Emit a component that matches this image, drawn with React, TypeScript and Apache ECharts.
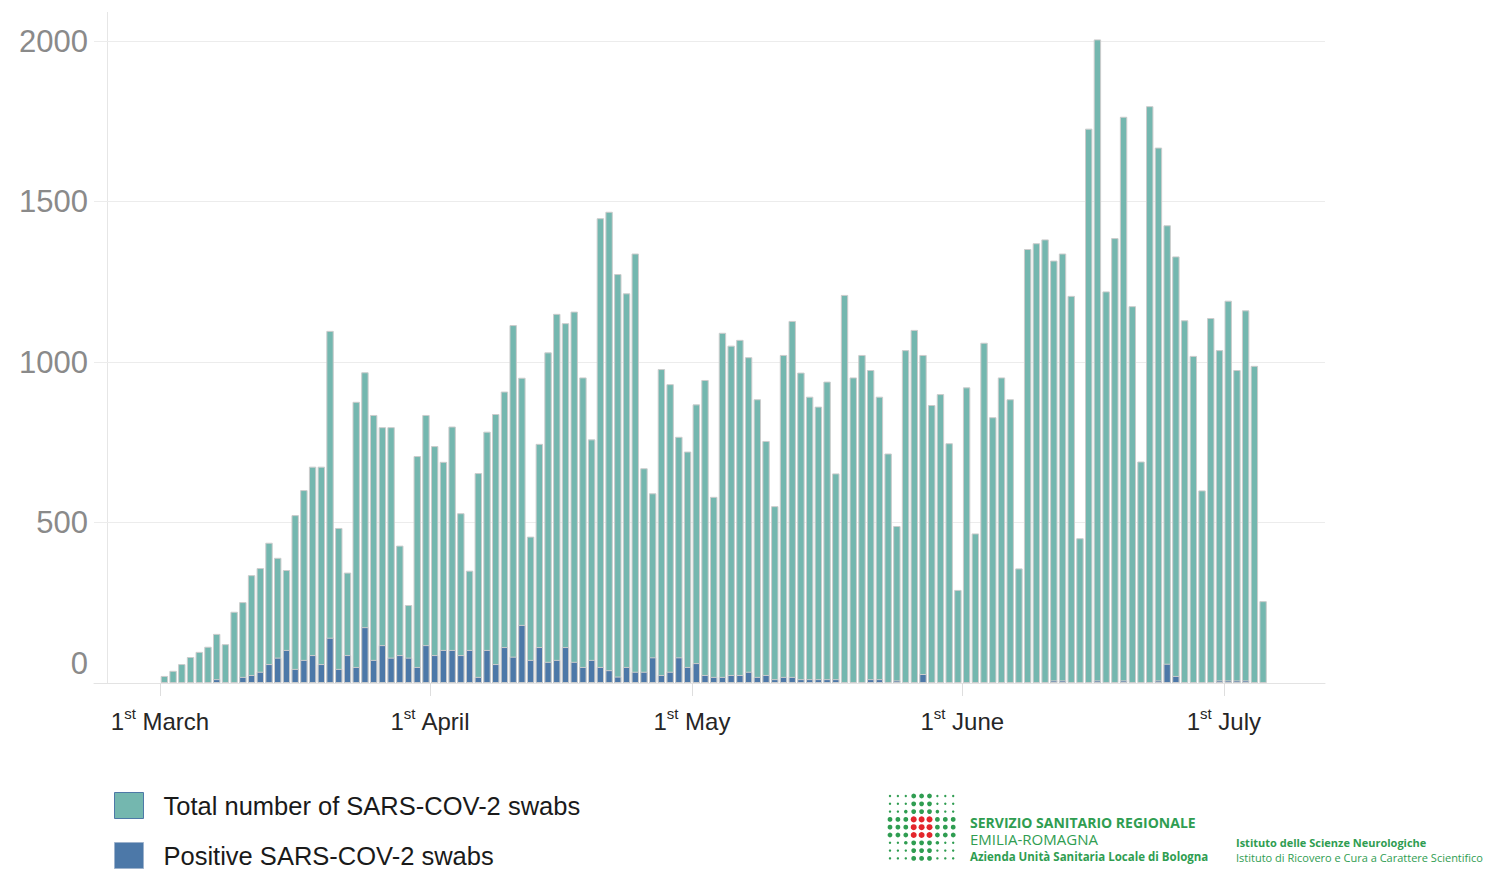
import React, { useEffect, useRef } from 'react';
import * as echarts from 'echarts';

// Daily swabs, 1 March (index 0) to 5 July (index 126)
const totalSwabs = [
  22, 38, 59, 81, 97, 113, 153, 121, 222, 252,
  336, 358, 437, 390, 352, 523, 601, 674, 674, 1097,
  483, 344, 876, 968, 835, 797, 797, 428, 243, 707,
  835, 738, 689, 799, 529, 350, 654, 783, 838, 908,
  1115, 951, 456, 745, 1030, 1150, 1121, 1157, 952, 759,
  1448, 1468, 1274, 1214, 1338, 669, 591, 978, 931, 767,
  721, 868, 944, 580, 1091, 1051, 1069, 1015, 884, 754,
  551, 1022, 1128, 967, 892, 861, 939, 653, 1209, 952,
  1022, 975, 892, 715, 489, 1037, 1100, 1022, 866, 900,
  747, 290, 921, 466, 1060, 828, 952, 884, 357, 1352,
  1370, 1382, 1316, 1338, 1206, 451, 1727, 2005, 1220, 1386,
  1764, 1174, 690, 1797, 1668, 1426, 1329, 1130, 1019, 600,
  1137, 1037, 1191, 975, 1161, 988, 255,
];

const positiveSwabs = [
  0, 0, 0, 0, 0, 0, 12, 0, 0, 19,
  25, 35, 59, 79, 103, 44, 72, 87, 59, 141,
  44, 87, 50, 174, 72, 118, 79, 87, 79, 50,
  118, 87, 103, 103, 87, 103, 19, 103, 59, 112,
  82, 181, 72, 112, 66, 72, 112, 66, 50, 72,
  50, 40, 20, 50, 35, 35, 80, 25, 35, 80,
  50, 62, 25, 19, 19, 25, 25, 35, 19, 25,
  12, 19, 19, 12, 12, 12, 12, 12, 0, 0,
  0, 12, 12, 0, 8, 0, 0, 28, 0, 0,
  0, 0, 0, 0, 0, 0, 0, 0, 0, 0,
  0, 0, 8, 8, 0, 0, 0, 8, 0, 0,
  8, 0, 0, 0, 8, 60, 22, 0, 0, 0,
  0, 8, 8, 8, 8, 0, 0,
];

const monthStartDays = [0, 31, 61, 92, 122];
const monthNames = ['March', 'April', 'May', 'June', 'July'];
const legendNames = ['Total number of SARS-COV-2 swabs', 'Positive SARS-COV-2 swabs'];

const FONT = '"Liberation Sans", Arial, sans-serif';
const LOGO_FONT = '"Open Sans", "Noto Sans", sans-serif';
const GREEN = '#2f9d51';
const RED = '#e3262c';

export default function App() {
  const ref = useRef<HTMLDivElement>(null);

  useEffect(() => {
    if (!ref.current) return;
    const chart = echarts.init(ref.current, null, { renderer: 'svg' });

    const totalData = totalSwabs.map((v, i) => [i + 0.5, v]);
    const posData = positiveSwabs
      .map((v, i) => [i + 0.5, v])
      .filter((d) => d[1] > 0);

    const dots: any[] = [];
    for (let r = 0; r < 9; r++) {
      for (let c = 0; c < 9; c++) {
        const inRow = r >= 3 && r <= 5;
        const inCol = c >= 3 && c <= 5;
        const red = inRow && inCol;
        const near = Math.max(Math.abs(r - 4), Math.abs(c - 4)) <= 2;
        const rad = red ? 3 : inRow || inCol ? 2.4 : near ? 1.8 : 1.2;
        dots.push({
          type: 'circle',
          shape: { cx: 890 + c * 7.9, cy: 796 + r * 7.8, r: rad },
          style: { fill: red ? RED : GREEN },
          silent: true,
        });
      }
    }

    const logoText = (text: string, x: number, y: number, font: string) => ({
      type: 'text',
      x,
      y,
      silent: true,
      style: { text, fill: GREEN, font, verticalAlign: 'middle', align: 'left' },
    });

    chart.setOption({
      animation: false,
      backgroundColor: '#ffffff',
      grid: { left: 94, right: 166, top: 41, bottom: 186, containLabel: false },
      legend: {
        orient: 'vertical',
        left: 114,
        top: 792,
        padding: 0,
        itemWidth: 29,
        itemHeight: 26,
        itemGap: 23,
        icon: 'rect',
        selectedMode: false,
        textStyle: { fontFamily: FONT, fontSize: 25.5, color: '#1a1a1a', padding: [0, 0, 0, 15] },
        data: [
          { name: legendNames[0], itemStyle: { borderColor: '#4e79a7', borderWidth: 1 } },
          { name: legendNames[1], itemStyle: { borderColor: '#9db2cc', borderWidth: 1 } },
        ],
      },
      xAxis: {
        type: 'value',
        min: -7.57,
        max: 133.6,
        splitLine: { show: false },
        axisLine: { show: true, lineStyle: { color: '#e3e3e3', width: 1 } },
        axisTick: {
          show: true,
          customValues: monthStartDays,
          length: 13,
          lineStyle: { color: '#dedede' },
        },
        axisLabel: {
          customValues: monthStartDays,
          margin: 23,
          formatter: (v: number) => {
            const k = monthStartDays.indexOf(v);
            return k < 0 ? '' : `{n|1}{s|st}{m| ${monthNames[k]}}`;
          },
          rich: {
            n: { fontSize: 24, lineHeight: 30, color: '#262626', fontFamily: FONT },
            s: { fontSize: 15, lineHeight: 20, verticalAlign: 'top', color: '#262626', fontFamily: FONT },
            m: { fontSize: 24, lineHeight: 30, color: '#262626', fontFamily: FONT },
          },
        },
      },
      yAxis: {
        type: 'value',
        min: 0,
        max: 2000,
        interval: 500,
        axisLine: { show: false },
        axisTick: { show: false },
        splitLine: { lineStyle: { color: '#ececec', width: 1 } },
        axisLabel: {
          margin: 6,
          fontSize: 31,
          color: '#8a8a8a',
          fontFamily: FONT,
          formatter: (v: number) => (v === 0 ? '{z|0}' : String(v)),
          rich: {
            z: { fontSize: 31, color: '#8a8a8a', fontFamily: FONT, padding: [0, 0, 40, 0] },
          },
        },
      },
      series: [
        {
          name: legendNames[0],
          type: 'bar',
          data: totalData,
          barWidth: 7.4,
          barGap: '-100%',
          clip: false,
          z: 2,
          itemStyle: { color: '#74b7af', borderColor: '#cccccc', borderWidth: 1 },
        },
        {
          name: legendNames[1],
          type: 'bar',
          data: posData,
          barWidth: 7.4,
          barGap: '-100%',
          clip: false,
          z: 3,
          itemStyle: { color: '#4c78a8', borderColor: '#cccccc', borderWidth: 1 },
        },
      ],
      graphic: [
        {
          type: 'line',
          silent: true,
          shape: { x1: 107.5, y1: 12, x2: 107.5, y2: 683 },
          style: { stroke: '#e6e6e6', lineWidth: 1 },
        },
        { type: 'group', children: dots },
        logoText('SERVIZIO SANITARIO REGIONALE', 970, 822, `bold 14px ${LOGO_FONT}`),
        logoText('EMILIA-ROMAGNA', 970, 839, `15px ${LOGO_FONT}`),
        logoText('Azienda Unità Sanitaria Locale di Bologna', 970, 856, `bold 11.5px ${LOGO_FONT}`),
        logoText('Istituto delle Scienze Neurologiche', 1236, 842, `bold 11px ${LOGO_FONT}`),
        logoText('Istituto di Ricovero e Cura a Carattere Scientifico', 1236, 857, `11px ${LOGO_FONT}`),
      ],
    });

    return () => chart.dispose();
  }, []);

  return (
    <div
      ref={ref}
      style={{ position: 'fixed', left: 0, top: 0, width: 1491, height: 869, background: '#fff' }}
    />
  );
}
